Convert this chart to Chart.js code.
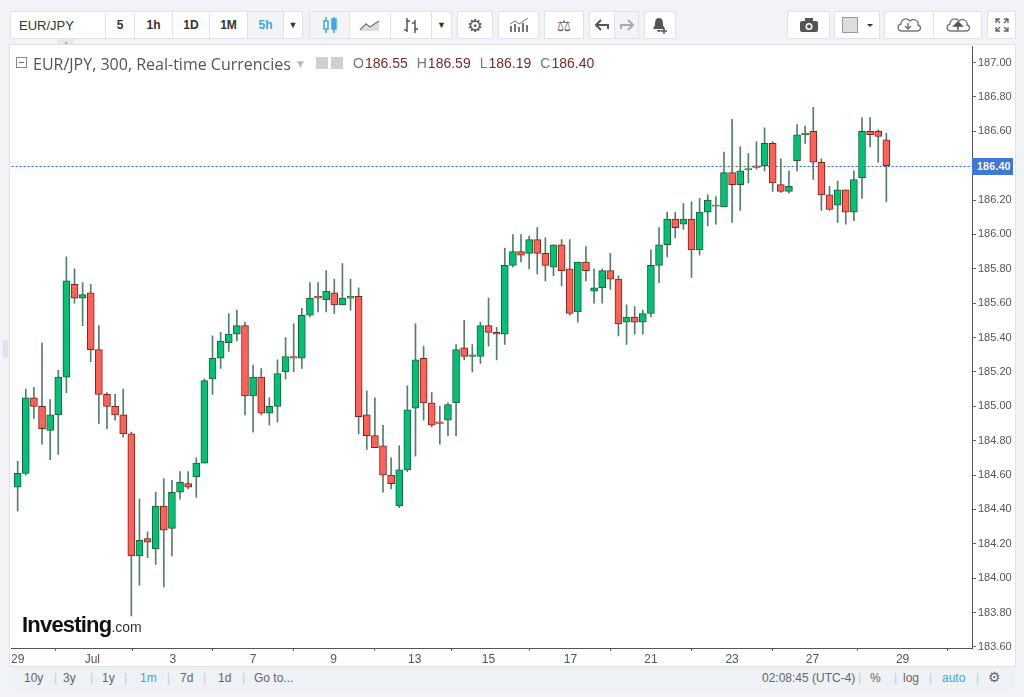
<!DOCTYPE html>
<html>
<head>
<meta charset="utf-8">
<script src="https://cdn.jsdelivr.net/npm/chart.js@4.4.1/dist/chart.umd.min.js"></script>
<style>
html, body { margin: 0; padding: 0; background: #fff; }
#wrap { position: relative; width: 1024px; height: 697px; background: #f1f3f7; overflow: hidden;
        font-family: "Liberation Sans Narrow", "Liberation Sans", Arial, sans-serif; }
#panel { position: absolute; left: 9px; top: 44px; width: 1007px; height: 623px; background: #fff;
         border: 1px solid #e0e3ea; box-sizing: border-box; }
.btn { position: absolute; top: 11px; height: 28px; background: #fff; border: 1px solid #e0e3ea;
       box-sizing: border-box; display: flex; align-items: center; justify-content: center;
       font-size: 12px; color: #333; font-weight: bold; }
.btn.sel { background: #f2f4f8; }
.blue { color: #3ea7e6; }
#legend { position: absolute; left: 0; top: 53px; width: 620px; height: 22px;
          font-family: "Open Sans", "DejaVu Sans", sans-serif; color: #555; white-space: nowrap; }
#legend > span { position: absolute; top: 0; }
#ohlc { left: 353px; top: 2px !important; font-family: "Liberation Sans", Arial, sans-serif; font-size: 14px; }
#ohlc b { font-weight: normal; color: #777; margin-right: 1px; }
#ohlc i { font-style: normal; color: #7b2a26; margin-right: 9px; }
#chartbox { position: absolute; left: 10px; top: 38px; width: 1005px; height: 627px; }
#bottom { position: absolute; left: 10px; top: 667px; width: 1005px; height: 22px; background: #eef1f5;
          font-size: 12px; color: #666; }
#bottom span { position: absolute; top: 4px; }
#bottom .sep { color: #c9ced6; }
#logo { position: absolute; left: 22px; top: 612px; white-space: nowrap; color: #111; }
#logo b { font-size: 22px; letter-spacing: -0.8px; }
#logo i { font-style: normal; font-size: 14px; color: #333; }
</style>
</head>
<body>
<div id="wrap">
  <div id="panel"></div>

  <div class="btn" style="left:10px;width:96px;justify-content:flex-start;padding-left:8px;font-weight:normal;font-size:13px;">EUR/JPY</div>
  <div style="position:absolute;left:58px;top:39px;width:16px;height:5px;background:#e6e9ef;font-size:5px;color:#aaa;text-align:center;line-height:6px;">&#9650;</div>
  <div class="btn" style="left:105px;width:30px;">5</div>
  <div class="btn" style="left:134px;width:39px;">1h</div>
  <div class="btn" style="left:172px;width:38px;">1D</div>
  <div class="btn" style="left:209px;width:39px;">1M</div>
  <div class="btn sel blue" style="left:247px;width:37px;">5h</div>
  <div class="btn" style="left:283px;width:20px;font-size:9px;">&#9660;</div>

  <div class="btn sel" style="left:309px;width:41px;">
    <svg width="16" height="18"><g stroke="#3ea7e6" fill="none" stroke-width="1.5"><line x1="4" y1="1" x2="4" y2="17"/><rect x="2" y="5" width="4" height="8" fill="#fff"/><line x1="12" y1="1" x2="12" y2="17"/><rect x="10" y="3" width="4" height="10" fill="#3ea7e6"/></g></svg>
  </div>
  <div class="btn" style="left:349px;width:42px;">
    <svg width="22" height="14"><path d="M1 12 L7 6 L11 9 L20 3" stroke="#777" stroke-width="1.5" fill="none"/><path d="M1 13 L7 7 L11 10 L20 4 L20 13Z" fill="#ddd"/></svg>
  </div>
  <div class="btn" style="left:390px;width:42px;">
    <svg width="18" height="18"><g stroke="#555" stroke-width="1.5" fill="none"><path d="M5 2 V16 M2 14 H5 M5 5 H8"/><path d="M13 4 V17 M10 7 H13 M13 13 H16"/></g></svg>
  </div>
  <div class="btn" style="left:431px;width:21px;font-size:9px;">&#9660;</div>
  <div class="btn" style="left:457px;width:36px;font-size:18px;color:#555;font-family:'DejaVu Sans';">&#9881;</div>
  <div class="btn" style="left:498px;width:41px;">
    <svg width="22" height="16"><g fill="#777"><rect x="2" y="9" width="2" height="6"/><rect x="6" y="7" width="2" height="8"/><rect x="10" y="10" width="2" height="5"/><rect x="14" y="6" width="2" height="9"/><rect x="18" y="8" width="2" height="7"/></g><path d="M2 7 L7 4 L11 7 L20 1" stroke="#777" fill="none"/></svg>
  </div>
  <div class="btn" style="left:544px;width:40px;font-size:16px;color:#666;font-family:'DejaVu Sans';">&#9878;</div>
  <div class="btn" style="left:589px;width:26px;">
    <svg width="14" height="12"><path d="M6 1 L1 6 L6 11 M1 6 H13 V10" stroke="#555" stroke-width="2" fill="none"/></svg>
  </div>
  <div class="btn sel" style="left:614px;width:25px;">
    <svg width="14" height="12"><path d="M8 1 L13 6 L8 11 M13 6 H1 V10" stroke="#aaa" stroke-width="2" fill="none"/></svg>
  </div>
  <div class="btn" style="left:644px;width:32px;">
    <svg width="18" height="18"><path d="M8 2 C4 2 4 6 4 9 L2 13 H14 L12 9 C12 6 12 2 8 2Z M6 14 A2 2 0 0 0 10 14Z" fill="#555"/><path d="M13 12 V18 M10 15 H16" stroke="#555" stroke-width="1.5"/></svg>
  </div>

  <div class="btn" style="left:787px;width:43px;">
    <svg width="20" height="16"><rect x="1" y="4" width="18" height="11" rx="2" fill="#555"/><rect x="6" y="1" width="8" height="4" fill="#555"/><circle cx="10" cy="9.5" r="3.5" fill="#fff"/><circle cx="10" cy="9.5" r="2" fill="#555"/></svg>
  </div>
  <div class="btn" style="left:834px;width:46px;justify-content:flex-start;padding-left:7px;">
    <svg width="34" height="18"><rect x="0.5" y="1.5" width="15" height="15" fill="#ddd" stroke="#999"/><path d="M25 8 L31 8 L28 11Z" fill="#333"/></svg>
  </div>
  <div class="btn" style="left:884px;width:50px;">
    <svg width="28" height="18"><path d="M7 15 C2 15 2 9 6 8 C6 3 12 1 15 5 C18 2 24 4 23 9 C27 10 26 15 22 15Z" stroke="#777" fill="none" stroke-width="1.3"/><path d="M13 7 V13 M10 10 L13 13 L16 10" stroke="#777" fill="none" stroke-width="1.5"/></svg>
  </div>
  <div class="btn" style="left:933px;width:49px;">
    <svg width="28" height="18"><path d="M7 15 C2 15 2 9 6 8 C6 3 12 1 15 5 C18 2 24 4 23 9 C27 10 26 15 22 15Z" stroke="#777" fill="none" stroke-width="1.3"/><path d="M14 14 V9 M10 10 L14 6 L18 10Z" stroke="#555" fill="#555" stroke-width="1.5"/></svg>
  </div>
  <div class="btn" style="left:987px;width:29px;">
    <svg width="14" height="14"><g stroke="#666" stroke-width="1.3" fill="none"><path d="M1 5 V1 H5 M1 1 L5 5"/><path d="M13 5 V1 H9 M13 1 L9 5"/><path d="M1 9 V13 H5 M1 13 L5 9"/><path d="M13 9 V13 H9 M13 13 L9 9"/></g></svg>
  </div>

  <div id="chartbox"><canvas id="ctx_candles" width="1005" height="627"></canvas></div>

  <div style="position:absolute;left:3px;top:340px;width:5px;height:18px;background:#dde1e8;border-radius:3px;"></div>

  <div id="legend">
    <span style="left:16px;top:4px;width:11px;height:11px;border:1px solid #888;box-sizing:border-box;"><span style="position:absolute;left:2px;top:4px;width:5px;height:1px;background:#666;"></span></span>
    <span style="left:33px;font-size:16px;">EUR/JPY, 300, Real-time Currencies</span>
    <span style="left:297px;top:4px;color:#bbb;font-size:9px;">&#9660;</span>
    <span style="left:316px;top:4px;width:12px;height:12px;background:#d0d0d0;"></span>
    <span style="left:331px;top:4px;width:12px;height:12px;background:#d0d0d0;"></span>
    <span id="ohlc"><b>O</b><i>186.55</i><b>H</b><i>186.59</i><b>L</b><i>186.19</i><b>C</b><i>186.40</i></span>
  </div>

  <div id="logo"><b>Investing</b><i>.com</i></div>

  <div id="bottom">
    <span style="left:14px;">10y</span><span class="sep" style="left:44px;">|</span>
    <span style="left:53px;">3y</span><span class="sep" style="left:80px;">|</span>
    <span style="left:92px;">1y</span><span class="sep" style="left:114px;">|</span>
    <span class="blue" style="left:130px;">1m</span><span class="sep" style="left:157px;">|</span>
    <span style="left:170px;">7d</span><span class="sep" style="left:193px;">|</span>
    <span style="left:208px;">1d</span><span class="sep" style="left:232px;">|</span>
    <span style="left:244px;">Go to...</span>
    <span style="left:752px;">02:08:45 (UTC-4)</span><span class="sep" style="left:848px;">|</span>
    <span style="left:860px;">%</span><span class="sep" style="left:884px;">|</span>
    <span style="left:893px;">log</span><span class="sep" style="left:919px;">|</span>
    <span class="blue" style="left:932px;">auto</span><span class="sep" style="left:966px;">|</span>
    <span style="left:978px;top:2px;font-size:14px;font-family:'DejaVu Sans';">&#9881;</span>
  </div>
</div>

<script>
// EUR/JPY 5h candles
var opens  = [184.53,184.61,185.05,185.00,184.86,184.95,185.17,185.71,185.63,185.66,
              185.33,185.07,185.00,184.95,184.84,184.13,184.23,184.17,184.42,184.29,
              184.50,184.55,184.59,184.67,185.16,185.28,185.37,185.42,185.47,185.06,
              185.17,184.96,185.00,185.20,185.29,185.28,185.53,185.64,185.62,185.66,
              185.59,185.63,185.64,184.95,184.83,184.77,184.60,184.42,184.63,184.99,
              185.28,185.02,184.91,184.92,185.02,185.34,185.29,185.29,185.47,185.43,
              185.42,185.82,185.90,185.89,185.97,185.89,185.81,185.94,185.80,185.55,
              185.84,185.67,185.69,185.79,185.74,185.49,185.52,185.49,185.54,185.82,
              185.94,186.09,186.06,186.09,185.91,186.13,186.165,186.16,186.36,186.29,
              186.376,186.40,186.40,186.53,186.29,186.25,186.43,186.58,186.60,186.42,
              186.23,186.17,186.26,186.13,186.33,186.60,186.60,186.55];
var highs  = [184.68,185.10,185.11,185.37,185.04,185.21,185.87,185.80,185.72,185.71,
              185.47,185.08,185.07,185.10,184.85,184.46,184.27,184.50,184.58,184.57,
              184.62,184.62,184.70,185.16,185.41,185.43,185.54,185.56,185.49,185.24,
              185.22,185.05,185.27,185.40,185.48,185.57,185.72,185.72,185.79,185.74,
              185.83,185.74,185.69,185.09,185.05,184.89,184.70,184.77,185.12,185.48,
              185.35,185.08,185.00,185.02,185.36,185.50,185.36,185.49,185.63,185.46,
              185.92,186.00,186.00,185.99,186.04,185.98,185.94,185.97,185.97,185.84,
              185.93,185.80,185.80,185.89,185.76,185.59,185.58,185.56,185.91,186.04,
              186.13,186.13,186.18,186.19,186.21,186.23,186.22,186.48,186.67,186.51,
              186.47,186.54,186.62,186.54,186.44,186.37,186.64,186.63,186.74,186.44,
              186.28,186.31,186.26,186.37,186.68,186.68,186.61,186.59];
var lows   = [184.39,184.60,184.93,184.78,184.69,184.72,185.08,185.60,185.47,185.26,
              184.90,184.87,184.92,184.82,183.78,183.96,184.12,184.08,183.95,184.13,
              184.46,184.52,184.47,184.67,185.07,185.22,185.32,185.38,184.95,184.85,
              184.95,184.89,184.91,185.16,185.20,185.22,185.52,185.55,185.55,185.54,
              185.59,185.56,184.84,184.75,184.76,184.50,184.52,184.41,184.62,184.71,
              184.92,184.88,184.78,184.83,184.83,185.27,185.20,185.25,185.35,185.27,
              185.36,185.81,185.84,185.80,185.77,185.73,185.76,185.70,185.53,185.49,
              185.73,185.60,185.60,185.68,185.41,185.36,185.42,185.42,185.52,185.72,
              185.87,185.98,186.03,185.75,185.88,186.05,186.06,186.16,186.07,186.14,
              186.30,186.38,186.37,186.25,186.245,186.24,186.37,186.53,186.32,186.14,
              186.14,186.07,186.06,186.08,186.21,186.51,186.42,186.19];
var closes = [184.61,185.05,185.00,184.87,184.95,185.17,185.73,185.63,185.65,185.33,
              185.07,185.00,184.95,184.84,184.13,184.22,184.21,184.42,184.28,184.50,
              184.56,184.53,184.67,185.15,185.28,185.38,185.42,185.47,185.06,185.17,
              184.96,185.00,185.19,185.29,185.28,185.53,185.63,185.63,185.67,185.59,
              185.63,185.64,184.94,184.83,184.76,184.60,184.55,184.63,184.98,185.27,
              185.02,184.89,184.90,185.01,185.33,185.29,185.30,185.47,185.43,185.42,
              185.82,185.90,185.88,185.97,185.89,185.82,185.94,185.79,185.54,185.84,
              185.79,185.69,185.79,185.74,185.48,185.52,185.49,185.54,185.82,185.94,
              186.09,186.04,186.09,185.91,186.13,186.20,186.17,186.36,186.29,186.37,
              186.384,186.39,186.53,186.30,186.25,186.28,186.58,186.59,186.42,186.23,
              186.145,186.26,186.13,186.32,186.60,186.58,186.57,186.40];

// x axis: day labels and the candle slot they sit on
var dayLabels = ['29', 'Jul', '3', '7', '9', '13', '15', '17', '21', '23', '27', '29'];
var dayPos    = [0.0, 9.2, 19.1, 29.0, 38.9, 48.9, 58.0, 68.1, 78.0, 88.0, 97.9, 109.0];

// price axis ticks
var priceTicks = [183.6, 183.8, 184.0, 184.2, 184.4, 184.6, 184.8, 185.0, 185.2,
                  185.4, 185.6, 185.8, 186.0, 186.2, 186.4, 186.6, 186.8, 187.0];

var x_min = -0.75, x_max = 117.55;
var y_min = 183.594, y_max = 187.093;

var up_fill = '#00c176', up_line = '#1c5e3c';
var dn_fill = '#ff6058', dn_line = '#7a2420';
var wick_col = '#557f68';
var last_close = closes[closes.length - 1];

var is_up = opens.map((o, i) => closes[i] >= o);

var body_data = opens.map((o, i) => ({x: i, y: [o, closes[i]]}));
var wick_data = lows.map((l, i) => ({x: i, y: [l, highs[i]]}));

var axis_font = {family: '"Liberation Sans Narrow", "Liberation Sans", Arial, sans-serif', size: 12};

// dotted last-price line across the plot and the blue price box on the axis
var last_price_tag = {
    id: 'last_price_tag',
    beforeDatasetsDraw: function (chart) {
        var ctx = chart.ctx, area = chart.chartArea;
        var y = Math.round(chart.scales.y.getPixelForValue(last_close)) + 0.5;
        ctx.save();
        ctx.strokeStyle = '#2a5bff';
        ctx.lineWidth = 1;
        ctx.setLineDash([2, 2]);
        ctx.beginPath();
        ctx.moveTo(area.left, y);
        ctx.lineTo(area.right, y);
        ctx.stroke();
        ctx.restore();
    },
    afterDraw: function (chart) {
        var ctx = chart.ctx, area = chart.chartArea;
        var y = Math.round(chart.scales.y.getPixelForValue(last_close));
        ctx.save();
        ctx.fillStyle = '#3f78d6';
        ctx.fillRect(area.right, y - 8, 41, 17);
        ctx.fillStyle = '#fff';
        ctx.font = 'bold 11px "Liberation Sans Narrow", "Liberation Sans", Arial, sans-serif';
        ctx.textBaseline = 'middle';
        ctx.fillText(last_close.toFixed(2), area.right + 5, y + 1);
        ctx.restore();
    }
};

ctx_candles = document.getElementById('ctx_candles').getContext('2d');
var chart_candles = new Chart(ctx_candles, {
    type: 'bar',
    data: {
        datasets: [{
            label: 'body',
            data: body_data,
            backgroundColor: is_up.map(u => u ? up_fill : dn_fill),
            borderColor: is_up.map(u => u ? up_line : dn_line),
            borderWidth: 1,
            borderSkipped: false,
            barThickness: 7,
            minBarLength: 1,
            grouped: false,
            order: 1
        }, {
            label: 'wick',
            data: wick_data,
            backgroundColor: wick_col,
            borderWidth: 0,
            barThickness: 1,
            grouped: false,
            order: 2
        }]
    },
    options: {
        responsive: false,
        animation: false,
        layout: {padding: 0},
        plugins: {
            legend: {display: false},
            tooltip: {enabled: false}
        },
        scales: {
            x: {
                type: 'linear',
                min: x_min,
                max: x_max,
                offset: false,
                afterBuildTicks: function (scale) {
                    scale.ticks = dayPos.map(v => ({value: v}));
                },
                afterFit: function (scale) { scale.height = 17; },
                ticks: {
                    autoSkip: false,
                    maxRotation: 0,
                    padding: 1,
                    color: '#555',
                    font: axis_font,
                    callback: function (v, i) { return dayLabels[i]; }
                },
                grid: {display: true, drawOnChartArea: false, tickLength: 3, color: '#666'},
                border: {display: true, color: '#555'}
            },
            y: {
                position: 'right',
                min: y_min,
                max: y_max,
                afterBuildTicks: function (scale) {
                    scale.ticks = priceTicks.map(v => ({value: v}));
                },
                afterFit: function (scale) { scale.width = 43; },
                ticks: {
                    padding: 2,
                    color: '#555',
                    font: {family: axis_font.family, size: 11},
                    callback: function (v) { return v.toFixed(2); }
                },
                grid: {display: true, drawOnChartArea: false, tickLength: 4, color: '#666'},
                border: {display: true, color: '#555'}
            }
        }
    },
    plugins: [last_price_tag]
});
</script>
</body>
</html>
